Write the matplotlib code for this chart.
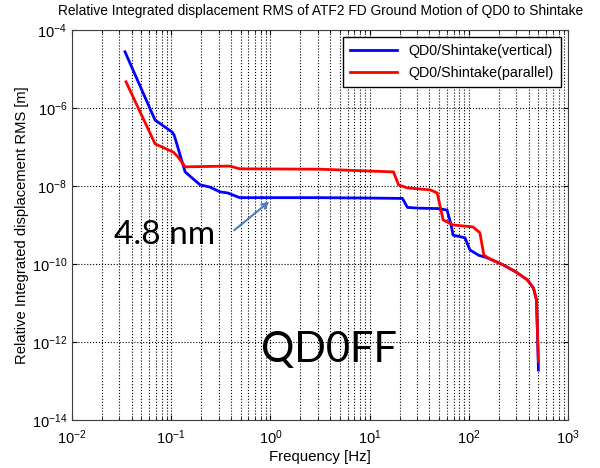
import matplotlib.pyplot as plt
import numpy as np

plt.rcParams['font.family'] = ['Liberation Sans', 'DejaVu Sans']
plt.rcParams['mathtext.default'] = 'regular'

# (log10 values)
vert_logf = [-1.466, -1.163, -0.99, -0.97, -0.86, -0.71, -0.61, -0.51, -0.43, -0.31,
             0.5, 1.0, 1.33, 1.38, 1.5, 1.70, 1.78, 1.82, 1.84, 1.96, 2.01, 2.10,
             2.16, 2.21, 2.35, 2.47, 2.59, 2.65, 2.68, 2.69, 2.70]
vert_logy = [-4.56, -6.31, -6.62, -6.70, -7.64, -7.97, -8.03, -8.15, -8.18, -8.30,
             -8.30, -8.31, -8.32, -8.55, -8.57, -8.58, -8.62, -9.0, -9.26, -9.33,
             -9.64, -9.78, -9.82, -9.87, -10.03, -10.2, -10.41, -10.62, -10.92,
             -11.77, -12.72]

par_logf = [-1.456, -1.163, -0.98, -0.93, -0.86, -0.41, -0.31, 0.5, 1.24, 1.29,
            1.38, 1.61, 1.68, 1.74, 1.84, 2.04, 2.11, 2.15, 2.21, 2.35, 2.47,
            2.59, 2.65, 2.68, 2.69, 2.70]
par_logy = [-5.33, -6.92, -7.13, -7.26, -7.51, -7.49, -7.56, -7.57, -7.64, -7.97,
            -8.05, -8.10, -8.18, -8.87, -9.0, -9.05, -9.2, -9.77, -9.87, -10.03,
            -10.2, -10.41, -10.62, -10.92, -11.7, -12.5]

vert_f = 10 ** np.array(vert_logf)
vert_y = 10 ** np.array(vert_logy)
par_f = 10 ** np.array(par_logf)
par_y = 10 ** np.array(par_logy)

fig = plt.figure(figsize=(6, 4.68), dpi=100)
ax = fig.add_axes([0.12, 0.1026, 0.827, 0.8334])

ax.loglog(vert_f, vert_y, color='blue', lw=2, label='QD0/Shintake(vertical)')
ax.loglog(par_f, par_y, color='red', lw=2, label='QD0/Shintake(parallel)')

ax.set_xlim(1e-2, 1e3)
ax.set_ylim(1e-14, 1e-4)
ax.set_yticks([1e-14, 1e-12, 1e-10, 1e-8, 1e-6, 1e-4])
ax.yaxis.set_minor_locator(plt.NullLocator())
ax.grid(True, which='major', axis='both', ls=':', color='black', lw=0.8)
ax.grid(True, which='minor', axis='x', ls=':', color='black', lw=0.8)
ax.tick_params(which='both', direction='in', top=True, right=True, labelsize=10.5)
ax.tick_params(axis='x', pad=6)
for s in ax.spines.values():
    s.set_color('#404040')

ax.set_title('Relative Integrated displacement RMS of ATF2 FD Ground Motion of QD0 to Shintake',
             fontsize=9.9, pad=11)
ax.set_xlabel('Frequency [Hz]', fontsize=10.8, labelpad=2)
ax.set_ylabel('Relative Integrated displacement RMS [m]', fontsize=10.6, labelpad=2)

leg = ax.legend(loc='upper right', fontsize=10.3, fancybox=False, framealpha=1,
                edgecolor='black', borderaxespad=0.5, handlelength=3.3,
                labelspacing=0.55, borderpad=0.5)

ax.annotate('', xy=(1.02, 4.4e-9), xytext=(0.41, 6.6e-10),
            arrowprops=dict(arrowstyle='->', color='#4a7ebb', lw=1.5))
ax.text(0.28, 5.5e-10, '4.8 nm', fontsize=24, family=['Lato', 'DejaVu Sans'],
        ha='right', va='center')
ax.text(3.9, 6.3e-13, 'QD0FF', fontsize=30, family=['Lato', 'DejaVu Sans'],
        ha='center', va='center')

fig.savefig('out.png', dpi=100)
